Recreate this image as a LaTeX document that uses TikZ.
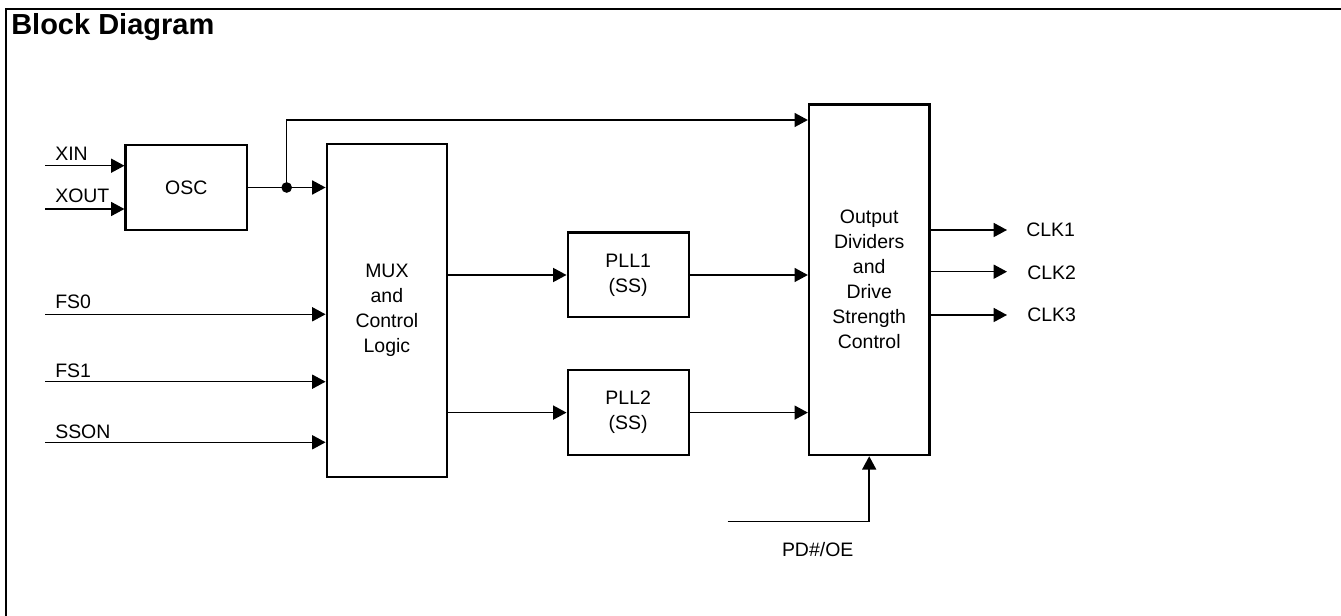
\documentclass[tikz,border=0pt]{standalone}
\usepackage{fontspec}
\setmainfont{Liberation Sans}
\usetikzlibrary{arrows.meta}
\begin{document}
\begin{tikzpicture}[x=0.75pt,y=-0.75pt,
  blk/.style={draw, line width=1.8pt, rectangle, align=center, inner sep=0pt, font=\fontsize{14.6}{18.75}\selectfont},
  lbl/.style={font=\fontsize{14.6}{18.75}\selectfont, inner sep=0pt},
  wire/.style={line width=1.1pt},
  arr/.style={wire, -{Triangle[length=10pt,width=10.5pt]}},
  frame/.style={line width=1.6pt}
]
\useasboundingbox (0,0) rectangle (1341,616);
\draw[frame] (6,617) -- (6,9) -- (1342,9);
\node[anchor=base west, inner sep=0pt, font=\fontsize{21.75}{26}\selectfont\bfseries] (title) at (11,35) {Block Diagram};

% blocks
\node[blk, minimum width=91pt, minimum height=63.75pt] (osc) at (186.3,187.5) {OSC};
\node[blk, minimum width=90.2pt, minimum height=249.3pt] (mux) at (386.9,310.5) {MUX\\and\\Control\\Logic};
\node[blk, minimum width=90.75pt, minimum height=63.45pt] (pll1) at (628.2,275) {PLL1\\(SS)};
\node[blk, minimum width=90.75pt, minimum height=63.75pt] (pll2) at (628.2,412.6) {PLL2\\(SS)};
\node[blk, minimum width=90.2pt, minimum height=263pt] (out) at (869.2,279.7) {Output\\Dividers\\and\\Drive\\Strength\\Control};

% inputs
\coordinate (xin) at (45,165.7);
\coordinate (xout) at (45,209);
\coordinate (fs0) at (45,314.3);
\coordinate (fs1) at (45,381.7);
\coordinate (sson) at (45,442.3);
\draw[arr] (xin) -- (xin -| osc.west);
\draw[arr] (xout) -- (xout -| osc.west);
\draw[arr] (fs0) -- (fs0 -| mux.west);
\draw[arr] (fs1) -- (fs1 -| mux.west);
\draw[arr] (sson) -- (sson -| mux.west);
\node[lbl, anchor=base west] (lxin) at (55,161) {XIN};
\node[lbl, anchor=base west] (lxout) at (55,203) {XOUT};
\node[lbl, anchor=base west] (lfs0) at (55,308.5) {FS0};
\node[lbl, anchor=base west] (lfs1) at (55,378) {FS1};
\node[lbl, anchor=base west] (lsson) at (55,438.5) {SSON};

% OSC to MUX and bypass
\coordinate (jn) at (286.7,187.5);
\coordinate (tp) at (286.7,120);
\draw[arr] (osc.east) -- (osc.east -| mux.west);
\draw[arr] (jn) -- (tp) -- (tp -| out.west);
\fill (jn) circle[radius=4pt];

% MUX to PLLs, PLLs to output block
\draw[arr] (pll1.west -| mux.east) -- (pll1.west);
\draw[arr] (pll2.west -| mux.east) -- (pll2.west);
\draw[arr] (pll1.east) -- (pll1.east -| out.west);
\draw[arr] (pll2.east) -- (pll2.east -| out.west);

% outputs
\coordinate (c1) at (1007,230);
\coordinate (c2) at (1007,271.7);
\coordinate (c3) at (1007,315);
\draw[arr] (c1 -| out.east) -- (c1);
\draw[arr] (c2 -| out.east) -- (c2);
\draw[arr] (c3 -| out.east) -- (c3);
\node[lbl, anchor=west] (lc1) at (1026,229.5) {CLK1};
\node[lbl, anchor=west] (lc2) at (1027,272.5) {CLK2};
\node[lbl, anchor=west] (lc3) at (1027,314.5) {CLK3};

% PD#/OE
\coordinate (pd) at (727.7,521.7);
\draw[arr] (pd) -- (pd -| out.south) -- (out.south);
\node[lbl, anchor=base] (lpd) at (817.7,556.5) {PD\#/OE};
\end{tikzpicture}
\end{document}
